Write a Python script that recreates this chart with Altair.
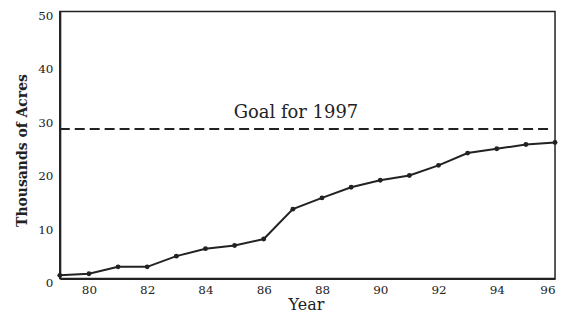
import altair as alt
import pandas as pd

years = [79, 80, 81, 82, 83, 84, 85, 86, 87, 88, 89, 90, 91, 92, 93, 94, 95, 96]
acres = [0.6, 0.9, 2.2, 2.2, 4.2, 5.6, 6.2, 7.4, 13.0, 15.1, 17.1, 18.4, 19.3, 21.2, 23.5, 24.3, 25.1, 25.5]
goal_value = [28]
goal_label = ["Goal for 1997"]
x_ticks = [80, 82, 84, 86, 88, 90, 92, 94, 96]
y_ticks = [0, 10, 20, 30, 40, 50]

df = pd.DataFrame({"Year": years, "Acres": acres})
goal_df = pd.DataFrame({"goal": goal_value, "label": goal_label})

SERIF = "DejaVu Serif"
INK = "#222222"

x_scale = alt.Scale(domain=[79, 96], nice=False, zero=False)
y_scale = alt.Scale(domain=[0, 50], nice=False)

x_axis = alt.Axis(values=x_ticks, format="d", title="Year", grid=False, ticks=False,
                  labelPadding=6, labelFont=SERIF, labelFontSize=12, labelColor=INK,
                  titleFont=SERIF, titleFontSize=16, titleFontWeight="normal", titleColor=INK,
                  titleX=247, titleY=31, titleBaseline="alphabetic",
                  domainColor=INK, domainWidth=2)
y_axis = alt.Axis(values=y_ticks, format="d", title="Thousands of Acres", grid=False, ticks=False,
                  labelPadding=7, labelOffset=4, labelFont=SERIF, labelFontSize=12, labelColor=INK,
                  titleFont=SERIF, titleFontSize=14, titleFontWeight="bold", titleColor=INK,
                  titleX=-37, titleY=139, titleAngle=-90, titleAlign="center", titleBaseline="middle",
                  domainColor=INK, domainWidth=2)

line = alt.Chart(df).mark_line(color=INK, strokeWidth=2).encode(
    x=alt.X("Year:Q", scale=x_scale, axis=x_axis),
    y=alt.Y("Acres:Q", scale=y_scale, axis=y_axis),
)
pts = alt.Chart(df).mark_point(filled=True, color=INK, size=24, opacity=1).encode(
    x=alt.X("Year:Q", scale=x_scale),
    y=alt.Y("Acres:Q", scale=y_scale),
)
rule = alt.Chart(goal_df).mark_rule(color=INK, strokeWidth=2, strokeDash=[10, 5]).encode(
    y=alt.Y("goal:Q", scale=y_scale),
    x=alt.value(0),
    x2=alt.value(492),
)
text = alt.Chart(goal_df).mark_text(font=SERIF, fontSize=18, color=INK, align="center",
                                    baseline="alphabetic", dy=-11).encode(
    y=alt.Y("goal:Q", scale=y_scale),
    x=alt.value(237),
    text="label:N",
)

chart = alt.layer(rule, text, line, pts).properties(
    width=497, height=268,
    autosize=alt.AutoSizeParams(type="none"),
    padding={"left": 52, "top": 3, "right": 6, "bottom": 34},
    background="white",
).configure_view(stroke=INK, strokeWidth=1.5)

chart.save("out.html", embed_options={"renderer": "svg", "actions": False})
